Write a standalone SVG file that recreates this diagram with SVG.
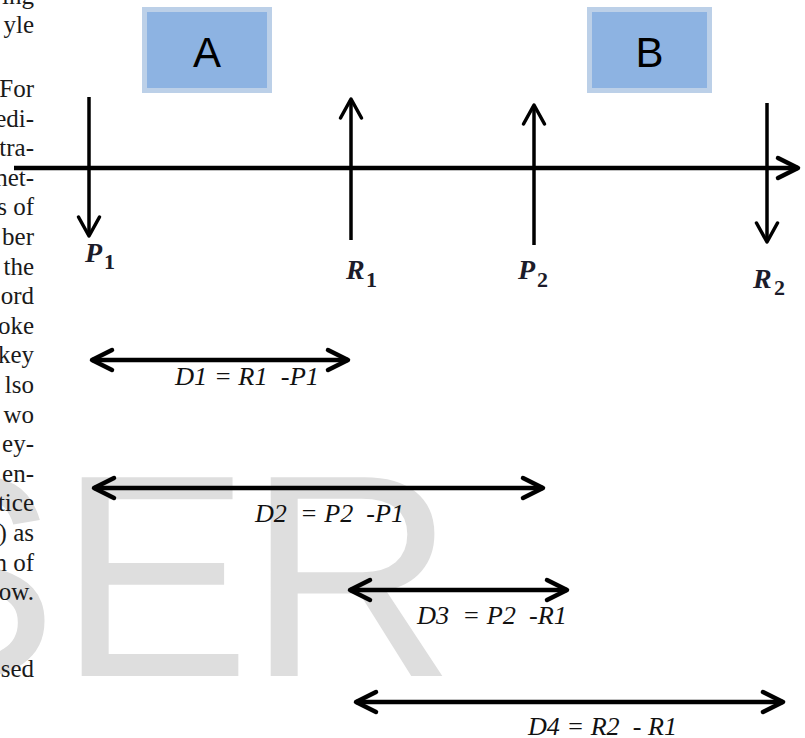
<svg xmlns="http://www.w3.org/2000/svg" width="805" height="738" viewBox="0 0 805 738">
<style>
.wm{font-family:"Liberation Sans",Arial,sans-serif;font-size:289px;fill:#dedede}
.page{font-family:"Liberation Serif","DejaVu Serif",serif;font-size:25px;fill:#1a1a1a;text-anchor:end}
.box{fill:#8db3e2;stroke:#bcd0e8;stroke-width:5}
.boxt{font-family:"Liberation Sans",Arial,sans-serif;font-size:42px;fill:#000;text-anchor:middle}
.var{font-family:"Liberation Serif","DejaVu Serif",serif;font-size:28px;font-style:italic;font-weight:bold;fill:#1c1c2a}
.sub{font-family:"Liberation Serif","DejaVu Serif",serif;font-size:22px;font-weight:bold;fill:#1c1c2a}
.dl{font-family:"Liberation Serif","DejaVu Serif",serif;font-size:25px;font-style:italic;fill:#111;white-space:pre}
.ln{stroke:#000;fill:none}
</style>
<defs>
<marker id="hd" markerUnits="userSpaceOnUse" viewBox="-24 -14 28 28" refX="0" refY="0" markerWidth="28" markerHeight="28" orient="auto-start-reverse">
<path d="M-20,-10 L0,0 L-20,10" fill="none" stroke="#000" stroke-width="4.5" stroke-linecap="round" stroke-linejoin="round"/>
</marker>
<marker id="hv" markerUnits="userSpaceOnUse" viewBox="-24 -14 28 28" refX="0" refY="0" markerWidth="28" markerHeight="28" orient="auto">
<path d="M-19,-10.5 L0,0 L-19,10.5" fill="none" stroke="#000" stroke-width="3.5" stroke-linecap="round" stroke-linejoin="round"/>
</marker>
</defs>

<g id="watermark">
<text class="wm" x="-135" y="676">S</text>
<text class="wm" x="58" y="676">E</text>
<text class="wm" x="247" y="676">R</text>
</g>

<g id="page-text">
<text class="page" x="34" y="4">ing</text>
<text class="page" x="34" y="33">yle</text>
<text class="page" x="34" y="97">For</text>
<text class="page" x="34" y="126.6">edi-</text>
<text class="page" x="34" y="156.2">tra-</text>
<text class="page" x="34" y="185.8">net-</text>
<text class="page" x="34" y="215.4">s of</text>
<text class="page" x="34" y="245">ber</text>
<text class="page" x="34" y="274.6">the</text>
<text class="page" x="34" y="304.2">ord</text>
<text class="page" x="34" y="333.8">oke</text>
<text class="page" x="34" y="363.4">key</text>
<text class="page" x="34" y="393">lso</text>
<text class="page" x="34" y="422.6">wo</text>
<text class="page" x="34" y="452.2">ey-</text>
<text class="page" x="34" y="481.8">en-</text>
<text class="page" x="34" y="511.4">tice</text>
<text class="page" x="34" y="541">) as</text>
<text class="page" x="34" y="570.6">n of</text>
<text class="page" x="34" y="600.2">ow.</text>
<text class="page" x="34" y="677">sed</text>
</g>

<g id="boxA">
<rect class="box" x="144.5" y="9.5" width="125" height="81"/>
<text class="boxt" x="207" y="67">A</text>
</g>
<g id="boxB">
<rect class="box" x="589.5" y="9.5" width="120" height="81"/>
<text class="boxt" x="649.5" y="67">B</text>
</g>

<g id="connectors">
<path id="axis" class="ln" d="M14,168 H798" stroke-width="4.5" marker-end="url(#hd)"/>
<path id="arrow-P1" class="ln" d="M89,97 V236" stroke-width="3.5" marker-end="url(#hv)"/>
<path id="arrow-R1" class="ln" d="M351,240 V99" stroke-width="3.5" marker-end="url(#hv)"/>
<path id="arrow-P2" class="ln" d="M534,245 V105" stroke-width="3.5" marker-end="url(#hv)"/>
<path id="arrow-R2" class="ln" d="M767,103 V242" stroke-width="3.5" marker-end="url(#hv)"/>
<path id="dim-D1" class="ln" d="M92,360 H348" stroke-width="4.5" marker-start="url(#hd)" marker-end="url(#hd)"/>
<path id="dim-D2" class="ln" d="M94,488 H543" stroke-width="4.5" marker-start="url(#hd)" marker-end="url(#hd)"/>
<path id="dim-D3" class="ln" d="M350,590 H567" stroke-width="4.5" marker-start="url(#hd)" marker-end="url(#hd)"/>
<path id="dim-D4" class="ln" d="M356,702 H783" stroke-width="4.5" marker-start="url(#hd)" marker-end="url(#hd)"/>
</g>

<g id="label-P1"><text class="var" x="85" y="262">P</text><text class="sub" x="104" y="269">1</text></g>
<g id="label-R1"><text class="var" x="346" y="279">R</text><text class="sub" x="366" y="287">1</text></g>
<g id="label-P2"><text class="var" x="518" y="279">P</text><text class="sub" x="537" y="287">2</text></g>
<g id="label-R2"><text class="var" x="753" y="288">R</text><text class="sub" x="774" y="295">2</text></g>

<g id="dim-labels">
<text class="dl" x="175" y="385" xml:space="preserve" textLength="144" lengthAdjust="spacingAndGlyphs">D1 = R1  -P1</text>
<text class="dl" x="255" y="522" xml:space="preserve" textLength="149" lengthAdjust="spacingAndGlyphs">D2  = P2  -P1</text>
<text class="dl" x="417" y="624" xml:space="preserve" textLength="150" lengthAdjust="spacingAndGlyphs">D3  = P2  -R1</text>
<text class="dl" x="528" y="735" xml:space="preserve" textLength="149" lengthAdjust="spacingAndGlyphs">D4 = R2  - R1</text>
</g>
</svg>
